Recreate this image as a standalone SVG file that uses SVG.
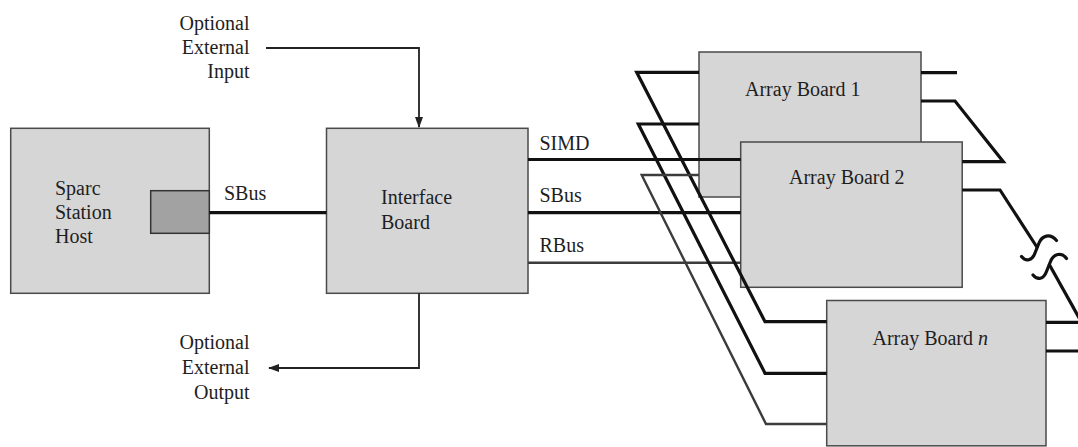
<svg xmlns="http://www.w3.org/2000/svg" width="1078" height="447" viewBox="0 0 1078 447">
<defs>
<marker id="arr" markerWidth="11" markerHeight="8" refX="10" refY="4" orient="auto" markerUnits="userSpaceOnUse"><path d="M0,0 L11,4 L0,8 Z" fill="#222"/></marker>
</defs>
<style>
.box{fill:#d6d6d6;stroke:#4a4a4a;stroke-width:1.5}
.port{fill:#a2a2a2;stroke:#333;stroke-width:1.5}
.t{font-family:"Liberation Serif","Times New Roman",serif;font-size:20px;fill:#1e1e1e}
.bus{fill:none;stroke:#111;stroke-width:3.2;stroke-linejoin:miter}
.bus2{fill:none;stroke:#3c3c3c;stroke-width:2.4;stroke-linejoin:miter}
.thin{fill:none;stroke:#222;stroke-width:1.8}
.sq{fill:none;stroke:#111;stroke-width:3.2;stroke-linecap:round}
</style>
<rect width="1078" height="447" fill="#fff"/>

<g id="host">
<rect class="box" x="10.7" y="128.3" width="198.6" height="165"/>
<rect class="port" x="150.7" y="190.7" width="58.6" height="42.6"/>
<text class="t" x="55" y="195">Sparc</text>
<text class="t" x="55" y="219">Station</text>
<text class="t" x="55" y="243">Host</text>
</g>

<g id="interface">
<rect class="box" x="326.5" y="128.3" width="201.5" height="165"/>
<text class="t" x="381" y="204">Interface</text>
<text class="t" x="381" y="228.5">Board</text>
</g>

<g id="board1">
<rect class="box" x="699" y="52" width="222" height="145"/>
<text class="t" x="745" y="96">Array Board 1</text>
</g>

<g id="board2">
<rect class="box" x="740.7" y="142" width="221.5" height="145.3"/>
<text class="t" x="789" y="184">Array Board 2</text>
</g>

<g id="boardn">
<rect class="box" x="826.7" y="300.5" width="219.3" height="145.3"/>
<text class="t" x="872.5" y="345">Array Board <tspan font-style="italic">n</tspan></text>
</g>

<g id="labels">
<text class="t" x="249.5" y="29.5" text-anchor="end">Optional</text>
<text class="t" x="249.5" y="54" text-anchor="end">External</text>
<text class="t" x="249.5" y="78" text-anchor="end">Input</text>
<text class="t" x="249.5" y="349" text-anchor="end">Optional</text>
<text class="t" x="249.5" y="374" text-anchor="end">External</text>
<text class="t" x="249.5" y="398.5" text-anchor="end">Output</text>
<text class="t" x="224" y="200">SBus</text>
<text class="t" x="539.5" y="150">SIMD</text>
<text class="t" x="539.5" y="201.5">SBus</text>
<text class="t" x="539.5" y="252">RBus</text>
</g>

<g id="connectors">
<path class="thin" d="M266,48 H419 V127" marker-end="url(#arr)"/>
<path class="thin" d="M419,293.3 V368 H269" marker-end="url(#arr)"/>
<path class="bus" d="M209.3,212.7 H326.5"/>
<path class="bus" d="M528,159.5 H740.7"/>
<path class="bus" d="M528,212.7 H740.7"/>
<path class="bus2" d="M528,262.7 H740.7"/>
<path class="bus" d="M699,72.3 H636.7 L765,321.7 H826.7"/>
<path class="bus" d="M699,124 H638.3 L765,373.3 H826.7"/>
<path class="bus2" d="M699,175 H641.7 L766,424 H826.7"/>
<path class="bus" d="M921,72.7 H957"/>
<path class="bus" d="M921,101 H955 L1003.3,161.7 H962.2"/>
<path class="bus" d="M962.2,190 H1000 L1037.5,248"/>
<path class="sq" d="M1021.5,256.5 C1026,262 1032,261 1035,253 L1039,243 C1042,235.5 1050,233 1056.5,240.5"/>
<path class="sq" d="M1033,275 C1037.5,280.5 1043.5,279.5 1046.5,271.5 L1050.5,261.5 C1053.5,254 1061.5,251.5 1066.5,258.5"/>
<path class="bus" d="M1049,264 L1082,323"/>
<path class="bus" d="M1046,322.3 H1082"/>
<path class="bus" d="M1046,351 H1082"/>
</g>
</svg>
